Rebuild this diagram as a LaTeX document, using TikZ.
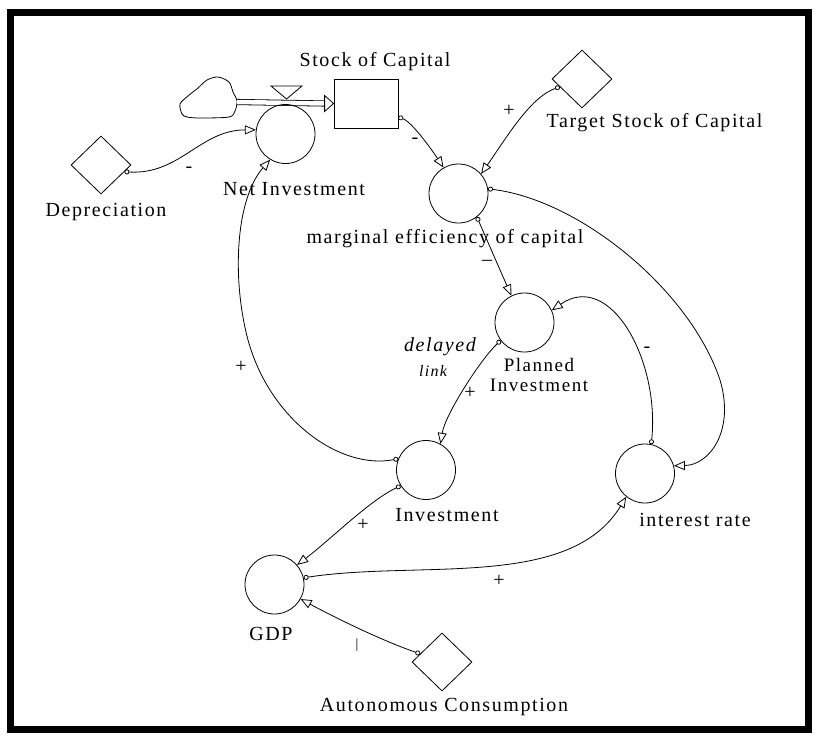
\documentclass[tikz,border=0pt]{standalone}
\usepackage{fontspec}
\setmainfont{Liberation Serif}[LetterSpace=8]
\usetikzlibrary{arrows.meta,shapes.geometric,calc}
\tikzset{
 var/.style={circle,draw,line width=0.8pt,minimum size=59pt,inner sep=0pt},
 const/.style={diamond,draw,line width=0.8pt,minimum width=60pt,minimum height=58pt,inner sep=0pt},
 lab/.style={inner sep=0pt,font=\fontsize{20}{22}\selectfont},
 sgn/.style={inner sep=0pt,font=\fontsize{20}{22}\selectfont},
 link/.style={line width=0.8pt,{Circle[open,length=5pt,width=5pt]}-{Triangle[open,length=11pt,width=9pt]}},
 stroke/.style={line width=0.8pt},
}
\begin{document}
\begin{tikzpicture}[x=1pt,y=-1pt]
\fill[white] (0,0) rectangle (818,736);
\useasboundingbox (0,0) rectangle (818,736);
\draw[line width=7pt] (10,12) rectangle (808,729);

% stock and flow
\node[draw,stroke,minimum width=64pt,minimum height=49pt,inner sep=0pt] (stock) at (366,103.5) {};
\node[lab] (stockL) at (375,62) {Stock of Capital};
\node[inner sep=0pt,minimum width=57pt,minimum height=41pt] (cloud) at (208.5,102) {};
\draw[stroke] plot[smooth cycle] coordinates {(182,114) (180,104) (188,96) (198,88) (207,80) (218,77) (229,82) (233,92) (237,101) (235,111) (229,117) (200,118) (187,117)};
\draw[stroke,double distance=4.5pt] (cloud.east) -- ([xshift=-9pt]stock.west);
\draw[stroke,fill=white] ([xshift=-9pt,yshift=8pt]stock.west) -- (stock.west) -- ([xshift=-9pt,yshift=-8pt]stock.west) -- cycle;
\coordinate (valve) at (286.5,92.5);
\draw[stroke,fill=white] ([shift={(-15.5,-6.5)}]valve) -- ([shift={(15.5,-6.5)}]valve) -- ([shift={(0,6.5)}]valve) -- cycle;

% variables
\node[var] (ni) at (285.5,134) {};
\node[var] (mec) at (458.5,193.5) {};
\node[var] (pi) at (524.5,322.5) {};
\node[var] (inv) at (426,470) {};
\node[var] (ir) at (645,473.5) {};
\node[var] (gdp) at (274.5,584.5) {};
\node[const] (dep) at (101,165) {};
\node[const] (tsc) at (582,79) {};
\node[const] (ac) at (442,662) {};

% labels
\node[lab] (niL) at (294,189) {Net Investment};
\node[lab] (depL) at (106,212) {Depreciation};
\node[lab] (mecL) at (445,239) {marginal efficiency of capital};
\node[lab] (tscL) at (654.5,123) {Target Stock of Capital};
\node[lab,font=\fontsize{19}{20}\selectfont] (piL1) at (539,365) {Planned};
\node[lab,font=\fontsize{19}{20}\selectfont] (piL2) at (539,385) {Investment};
\node[lab,font=\fontsize{20}{22}\selectfont\itshape] (delL) at (440,347) {delayed};
\node[lab,font=\fontsize{16}{18}\selectfont\itshape] (linkL) at (433,371) {link};
\node[lab] (invL) at (447,515) {Investment};
\node[lab] (irL) at (695,520) {interest rate};
\node[lab] (gdpL) at (271,634) {GDP};
\node[lab] (acL) at (444,707) {Autonomous Consumption};

% links
\draw[link] ([yshift=-13.5pt]stock.east) .. controls (412,122) and (432,150) .. (mec.120);
\draw[link] ($(tsc.west)!0.27!(tsc.south)$) .. controls (530,97) and (505,140) .. (mec.41);
\draw[link] (mec.-52) .. controls (487,240) and (500,270) .. (pi.116);
\draw[link] (mec.9) .. controls (580,200) and (690,290) .. (720,380) .. controls (735,430) and (710,465) .. (ir.15);
\draw[link] (ir.78) .. controls (660,360) and (610,270) .. (pi.24);
\draw[link] (pi.217) .. controls (480,360) and (445,415) .. (inv.61);
\draw[link] (inv.158) .. controls (340,470) and (270,420) .. (248,340) .. controls (232,280) and (235,200) .. (ni.239);
\draw[link] ($(dep.east)!0.23!(dep.south)$) .. controls (180,175) and (200,130) .. (ni.172);
\draw[link] (inv.212) .. controls (370,500) and (330,540) .. (gdp.41);
\draw[link] (gdp.13) .. controls (420,560) and (570,590) .. (ir.231);
\draw[link] ($(ac.west)!0.28!(ac.north)$) .. controls (380,640) and (330,615) .. (gdp.-29);

% polarity signs
\node[sgn] (s1) at (415,141) {-};
\node[sgn] (s2) at (509,111) {+};
\node[sgn] (s3) at (487,263) {–};
\node[sgn] (s4) at (647,350) {-};
\node[sgn] (s5) at (470,393) {+};
\node[sgn] (s6) at (241,367) {+};
\node[sgn] (s7) at (189,170) {-};
\node[sgn] (s8) at (363,525) {+};
\node[sgn] (s9) at (499,581) {+};
\node[sgn,font=\fontsize{14}{16}\selectfont] (s10) at (357,645) {|};
\end{tikzpicture}
\end{document}
